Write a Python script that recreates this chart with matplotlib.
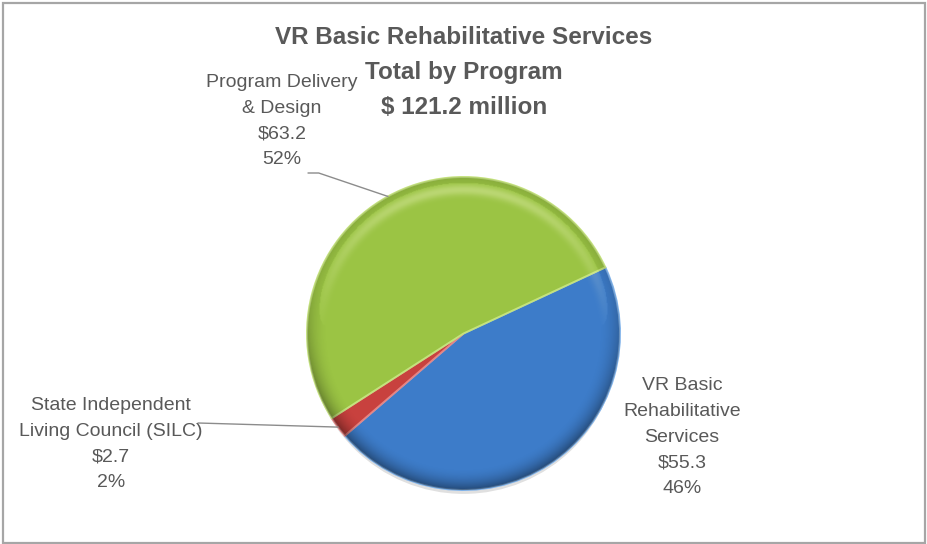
import numpy as np
import matplotlib.pyplot as plt
from matplotlib.patches import Rectangle, Circle, Ellipse

plt.rcParams['font.family'] = ['Liberation Sans', 'DejaVu Sans']

programs = ["VR Basic\nRehabilitative\nServices",
            "State Independent\nLiving Council (SILC)",
            "Program Delivery\n& Design"]
amounts = [55.3, 2.7, 63.2]      # $ millions
shares = [46, 2, 52]             # percent of total
colors = ["#3D7CC9", "#C8413E", "#9BC444"]
edge_colors = ["#7FB2EA", "#E58584", "#C4E27D"]
total = 121.2
title_lines = ["VR Basic Rehabilitative Services", "Total by Program",
               "$ %.1f million" % total]

W, H = 927, 544
fig = plt.figure(figsize=(W / 100, H / 100), dpi=100)
txt = "#595959"

# outer chart frame
fig.add_artist(Rectangle((2.5 / W, 1.5 / H), (W - 5) / W, (H - 4) / H,
                         transform=fig.transFigure, fill=False,
                         edgecolor="#A6A6A6", linewidth=1.6))

# pie: centre (463.5, 333.5) px, radius 156.5 px
cx, cy, r = 463.5, 333.5, 156.5
ax = fig.add_axes([(cx - r) / W, (H - cy - r) / H, 2 * r / W, 2 * r / H])
ax.set_axis_off()

# soft shadow under the pie
ax.add_patch(Ellipse((0.0, -0.035), 1.98, 1.98, color="#000000", alpha=0.12,
                     linewidth=0, zorder=0, clip_on=False))
wedges, _ = ax.pie(amounts, colors=colors, startangle=25, counterclock=False,
                   radius=1.0,
                   wedgeprops=dict(linewidth=1.4, zorder=1))
for w, ec in zip(wedges, edge_colors):
    w.set_edgecolor(ec)

# shading overlay: darker rim toward the bottom, thin light band at the top
n = 400
gx, gy = np.meshgrid(np.linspace(-1, 1, n), np.linspace(1, -1, n))
rr = np.hypot(gx, gy)
shade = np.zeros((n, n, 4))
dark = np.clip((rr - 0.86) / 0.14, 0, 1) ** 2 * 0.40 * (0.3 + 0.7 * np.clip(-gy + 0.3, 0, 1))
band = np.exp(-((rr - 0.92) / 0.035) ** 2) * np.clip(gy, 0, 1) * 0.35
light_wins = band > dark
shade[..., :3] = np.where(light_wins[..., None], np.array([1.0, 1.0, 0.85]), 0.0)
shade[..., 3] = np.where(light_wins, band, dark)
im = ax.imshow(shade, extent=(-1, 1, -1, 1), zorder=3, interpolation="bilinear")
im.set_clip_path(Circle((0, 0), 1.0, transform=ax.transData))
ax.set_xlim(-1, 1)
ax.set_ylim(-1, 1)

# title, one text per line
for k, line in enumerate(title_lines):
    fig.text(464 / W, 1 - (38 + 34.5 * k) / H, line,
             ha="center", va="center", fontsize=17.5, fontweight="bold",
             color=txt)

def label(i):
    return "%s\n$%.1f\n%d%%" % (programs[i], amounts[i], shares[i])

def rim_point(w):
    a = np.deg2rad((w.theta1 + w.theta2) / 2)
    return np.cos(a) * w.r, np.sin(a) * w.r

lab_kw = dict(ha="center", va="center", fontsize=14, color=txt, linespacing=1.69)

# VR Basic Rehabilitative Services
fig.text(682 / W, 1 - 437 / H, label(0), **lab_kw)

# SILC, with leader line
fig.text(111 / W, 1 - 444 / H, label(1), **lab_kw)
ax.annotate("", xy=rim_point(wedges[1]), xycoords="data",
            xytext=(198, H - 423), textcoords="figure pixels",
            arrowprops=dict(arrowstyle="-", color="#8C8C8C", lw=1.0,
                            shrinkA=0, shrinkB=0))

# Program Delivery & Design, with elbow leader line
fig.text(282 / W, 1 - 121 / H, label(2), **lab_kw)
ax.annotate("", xy=rim_point(wedges[2]), xycoords="data",
            xytext=(308, H - 173), textcoords="figure pixels",
            arrowprops=dict(arrowstyle="-", color="#8C8C8C", lw=1.0,
                            shrinkA=0, shrinkB=0,
                            connectionstyle="angle,angleA=0,angleB=-18.7,rad=0"))

fig.savefig("out.png", dpi=100)
